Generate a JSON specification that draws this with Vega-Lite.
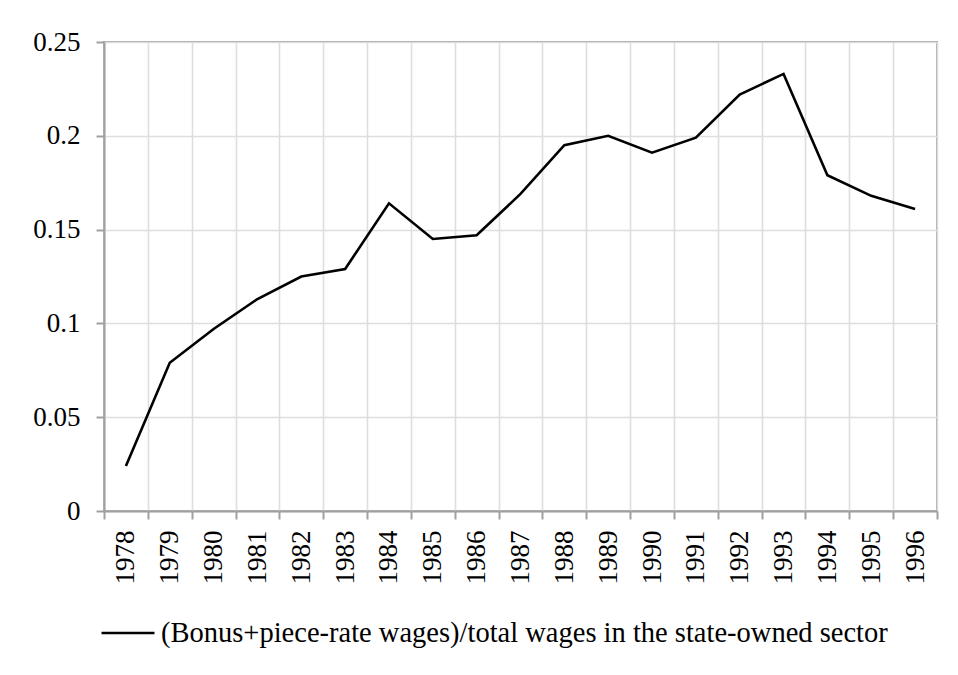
{
  "$schema": "https://vega.github.io/schema/vega-lite/v6.json",
  "width": 833,
  "height": 469,
  "autosize": {"type": "none"},
  "padding": {"left": 104, "top": 42, "right": 21, "bottom": 164},
  "background": "white",
  "config": {
    "font": "Liberation Serif",
    "view": {"stroke": "#a6a6a6", "strokeWidth": 2},
    "axis": {
      "labelFont": "Liberation Serif",
      "labelFontSize": 27,
      "labelColor": "black",
      "domainColor": "#a0a0a0",
      "domainWidth": 2,
      "tickColor": "#a0a0a0",
      "tickWidth": 2,
      "tickSize": 8,
      "gridColor": "#dedede",
      "gridWidth": 1.6,
      "title": null
    }
  },
  "data": {
    "values": [
      {"year": "1978", "ratio": 0.024},
      {"year": "1979", "ratio": 0.079},
      {"year": "1980", "ratio": 0.097},
      {"year": "1981", "ratio": 0.113},
      {"year": "1982", "ratio": 0.125},
      {"year": "1983", "ratio": 0.129},
      {"year": "1984", "ratio": 0.164},
      {"year": "1985", "ratio": 0.145},
      {"year": "1986", "ratio": 0.147},
      {"year": "1987", "ratio": 0.169},
      {"year": "1988", "ratio": 0.195},
      {"year": "1989", "ratio": 0.2},
      {"year": "1990", "ratio": 0.191},
      {"year": "1991", "ratio": 0.199},
      {"year": "1992", "ratio": 0.222},
      {"year": "1993", "ratio": 0.233},
      {"year": "1994", "ratio": 0.179},
      {"year": "1995", "ratio": 0.168},
      {"year": "1996", "ratio": 0.161}
    ]
  },
  "mark": {"type": "line", "strokeWidth": 2.6, "strokeJoin": "miter"},
  "encoding": {
    "x": {
      "field": "year",
      "type": "ordinal",
      "bandPosition": 0.5,
      "scale": {"type": "band", "paddingInner": 0, "paddingOuter": 0},
      "axis": {
        "labelAngle": -90,
        "labelPadding": 11,
        "tickBand": "extent",
        "grid": true
      }
    },
    "y": {
      "field": "ratio",
      "type": "quantitative",
      "scale": {"domain": [0, 0.25], "nice": false, "zero": true},
      "axis": {
        "values": [0, 0.05, 0.1, 0.15, 0.2, 0.25],
        "format": ".2~f",
        "labelPadding": 16,
        "grid": true
      }
    },
    "color": {
      "datum": "(Bonus+piece-rate wages)/total wages in the state-owned sector",
      "type": "nominal",
      "scale": {"range": ["black"]},
      "legend": {
        "title": null,
        "orient": "none",
        "legendX": -4,
        "legendY": 563,
        "padding": 0,
        "symbolType": "stroke",
        "symbolSize": 2809,
        "symbolStrokeWidth": 2.6,
        "labelOffset": 5,
        "labelFont": "Liberation Serif",
        "labelFontSize": 28.5,
        "labelColor": "black",
        "labelLimit": 1000
      }
    }
  }
}
